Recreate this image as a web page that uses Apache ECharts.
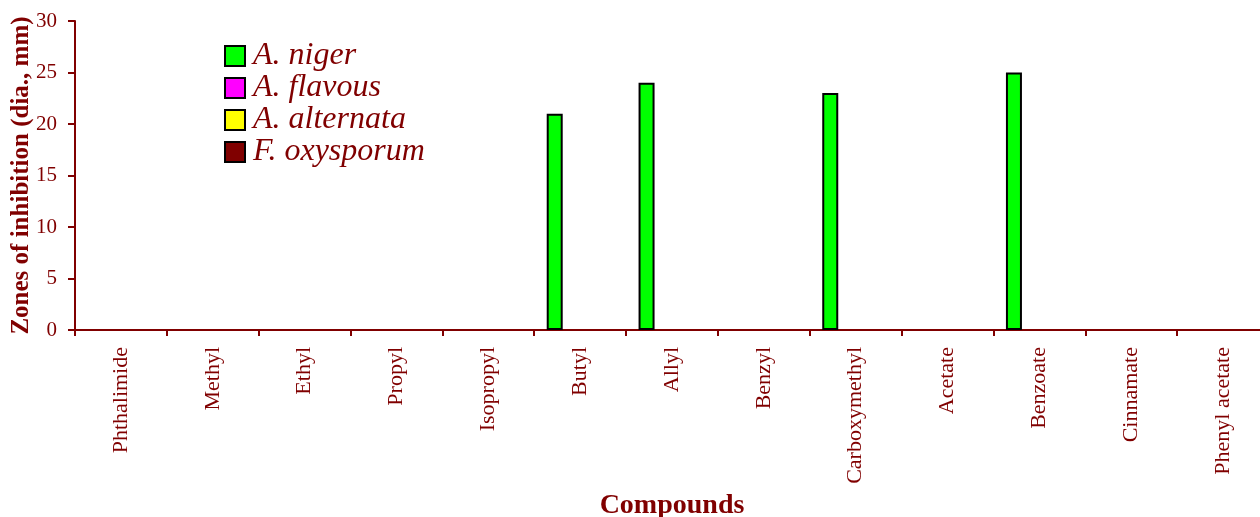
<!DOCTYPE html>
<html><head><meta charset="utf-8">
<script src="https://cdn.jsdelivr.net/npm/echarts@6/dist/echarts.min.js"></script>
<style>html,body{margin:0;padding:0;background:#fff}#c{width:1260px;height:517px}</style>
</head><body><div id="c"></div>
<script>
const categories = ['Phthalimide','Methyl','Ethyl','Propyl','Isopropyl','Butyl','Allyl','Benzyl','Carboxymethyl','Acetate','Benzoate','Cinnamate','Phenyl acetate'];
const seriesNames = ['A. niger','A. flavous','A. alternata','F. oxysporum'];
const aNiger      = [0,0,0,0,0,21,24,0,23,0,25,0,0];
const aFlavous    = [0,0,0,0,0,0,0,0,0,0,0,0,0];
const aAlternata  = [0,0,0,0,0,0,0,0,0,0,0,0,0];
const fOxysporum  = [0,0,0,0,0,0,0,0,0,0,0,0,0];
const colors = ['#00ff00','#ff00ff','#ffff00','#800000'];
const yTicks = [0,5,10,15,20,25,30];

const dark = '#800000';
const font = "'Liberation Serif','Times New Roman',serif";
const allData = [aNiger,aFlavous,aAlternata,fOxysporum];

const chart = echarts.init(document.getElementById('c'));
chart.setOption({
  animation:false,
  color: colors,
  grid:{left:75,right:-9,top:21,bottom:187,containLabel:false,outerBoundsMode:'none'},
  legend:{
    orient:'vertical',left:219,top:35,padding:5,itemWidth:20,itemHeight:20,itemGap:0,
    icon:'rect',
    itemStyle:{borderColor:'#000',borderWidth:2},
    textStyle:{fontFamily:font,fontStyle:'italic',fontSize:32,lineHeight:31,color:dark,padding:[0,0,0,3]},
    data: seriesNames
  },
  xAxis:{
    type:'category',data:categories,
    name:'Compounds',nameLocation:'middle',nameGap:158,
    nameTextStyle:{fontFamily:font,fontWeight:'bold',fontSize:28,color:dark},
    axisLine:{lineStyle:{color:dark,width:2}},
    axisTick:{show:true,length:6,lineStyle:{color:dark,width:2}},
    axisLabel:{rotate:90,margin:17,interval:0,fontFamily:font,fontSize:22,color:dark},
    splitLine:{show:false}
  },
  yAxis:{
    type:'value',min:yTicks[0],max:yTicks[yTicks.length-1],interval:5,
    name:'Zones of inhibition (dia., mm)',nameLocation:'middle',nameGap:41,nameMoveOverlap:false,
    nameTextStyle:{fontFamily:font,fontWeight:'bold',fontSize:25,color:dark},
    axisLine:{show:true,lineStyle:{color:dark,width:2}},
    axisTick:{show:true,length:7,lineStyle:{color:dark,width:2}},
    axisLabel:{margin:18,fontFamily:font,fontSize:21,color:dark},
    splitLine:{show:false}
  },
  series: seriesNames.map((n,i)=>({
    name:n,type:'bar',barWidth:16,barGap:'6%',
    itemStyle:{color:colors[i],borderColor:'#000',borderWidth:2},
    data: allData[i].map(v=> v===0 ? {value:v,itemStyle:{borderWidth:0}} : v)
  }))
});
</script></body></html>
